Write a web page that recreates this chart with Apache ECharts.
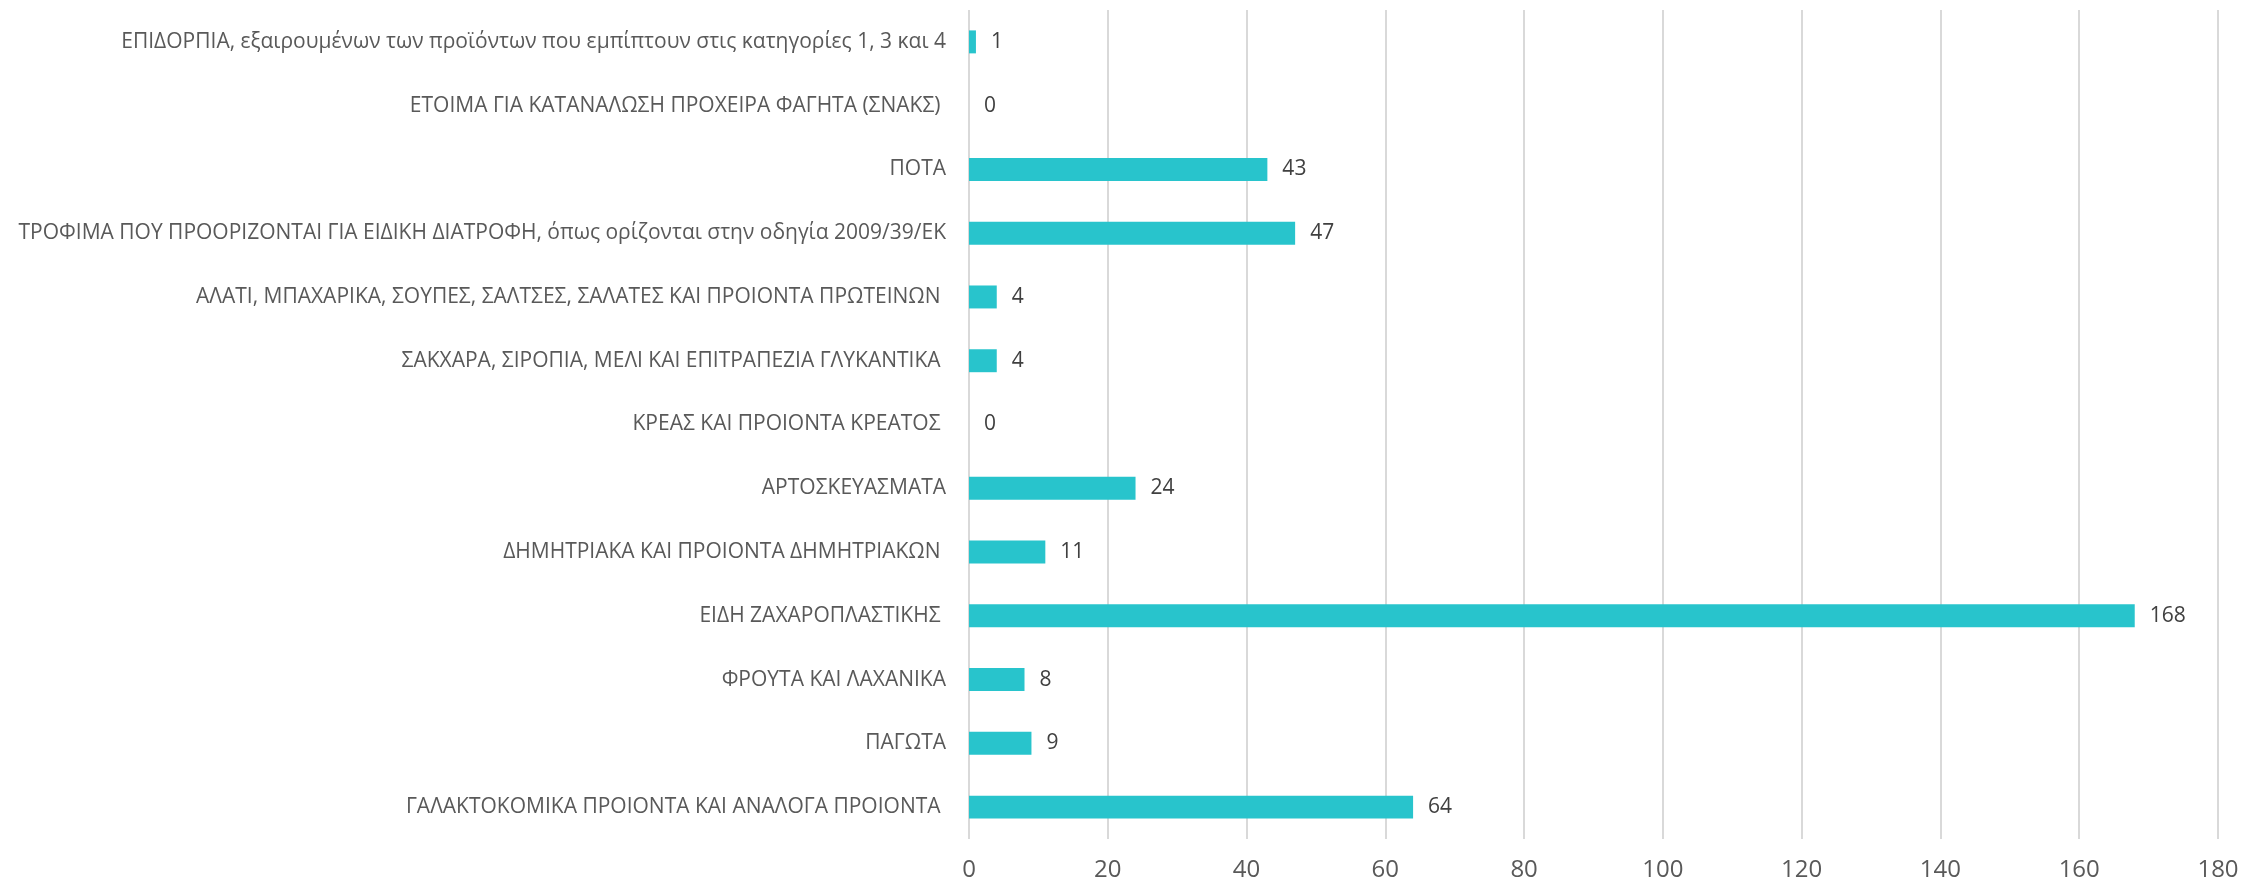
<!DOCTYPE html>
<html>
<head>
<meta charset="utf-8">
<script src="https://cdn.jsdelivr.net/npm/echarts@6/dist/echarts.min.js"></script>
<style>
html,body{margin:0;padding:0;background:#fff;}
#chart{width:2244px;height:888px;}
</style>
</head>
<body>
<div id="chart"></div>
<script>
const categories = [
  'ΓΑΛΑΚΤΟΚΟΜΙΚΑ ΠΡΟΙΟΝΤΑ ΚΑΙ ΑΝΑΛΟΓΑ ΠΡΟΙΟΝΤΑ ',
  'ΠΑΓΩΤΑ',
  'ΦΡΟΥΤΑ ΚΑΙ ΛΑΧΑΝΙΚΑ',
  'ΕΙΔΗ ΖΑΧΑΡΟΠΛΑΣΤΙΚΗΣ ',
  'ΔΗΜΗΤΡΙΑΚΑ ΚΑΙ ΠΡΟΙΟΝΤΑ ΔΗΜΗΤΡΙΑΚΩΝ ',
  'ΑΡΤΟΣΚΕΥΑΣΜΑΤΑ',
  'ΚΡΕΑΣ ΚΑΙ ΠΡΟΙΟΝΤΑ ΚΡΕΑΤΟΣ ',
  'ΣΑΚΧΑΡΑ, ΣΙΡΟΠΙΑ, ΜΕΛΙ ΚΑΙ ΕΠΙΤΡΑΠΕΖΙΑ ΓΛΥΚΑΝΤΙΚΑ ',
  'ΑΛΑΤΙ, ΜΠΑΧΑΡΙΚΑ, ΣΟΥΠΕΣ, ΣΑΛΤΣΕΣ, ΣΑΛΑΤΕΣ ΚΑΙ ΠΡΟΙΟΝΤΑ ΠΡΩΤΕΙΝΩΝ ',
  'ΤΡΟΦΙΜΑ ΠΟΥ ΠΡΟΟΡΙΖΟΝΤΑΙ ΓΙΑ ΕΙΔΙΚΗ ΔΙΑΤΡΟΦΗ, όπως ορίζονται στην οδηγία 2009/39/ΕΚ',
  'ΠΟΤΑ',
  'ΕΤΟΙΜΑ ΓΙΑ ΚΑΤΑΝΑΛΩΣΗ ΠΡΟΧΕΙΡΑ ΦΑΓΗΤΑ (ΣΝΑΚΣ) ',
  'ΕΠΙΔΟΡΠΙΑ, εξαιρουμένων των προϊόντων που εμπίπτουν στις κατηγορίες 1, 3 και 4'
];
const values = [64, 9, 8, 168, 11, 24, 0, 4, 4, 47, 43, 0, 1];
const xTicks = [0, 20, 40, 60, 80, 100, 120, 140, 160, 180];

const chart = echarts.init(document.getElementById('chart'), null, {renderer: 'canvas'});
chart.setOption({
  animation: false,
  backgroundColor: '#ffffff',
  textStyle: {fontFamily: 'Open Sans'},
  grid: {left: 969, right: 26, top: 10, bottom: 49, containLabel: false},
  xAxis: {
    type: 'value',
    min: xTicks[0],
    max: xTicks[xTicks.length - 1],
    interval: 20,
    axisLine: {show: false},
    axisTick: {show: false},
    splitLine: {show: true, lineStyle: {color: '#D9D9D9', width: 2}},
    axisLabel: {color: '#595959', fontSize: 24, margin: 19, fontFamily: 'Open Sans'}
  },
  yAxis: {
    type: 'category',
    data: categories,
    axisLine: {show: false},
    axisTick: {show: false},
    splitLine: {show: false},
    axisLabel: {color: '#595959', fontSize: 21, margin: 23, fontFamily: 'Open Sans', interval: 0}
  },
  series: [{
    type: 'bar',
    data: values,
    barWidth: '36%',
    itemStyle: {color: '#28C4CC'},
    label: {
      show: true,
      position: 'right',
      distance: 15,
      color: '#404040',
      fontSize: 21,
      fontFamily: 'Open Sans'
    }
  }]
});
</script>
</body>
</html>
